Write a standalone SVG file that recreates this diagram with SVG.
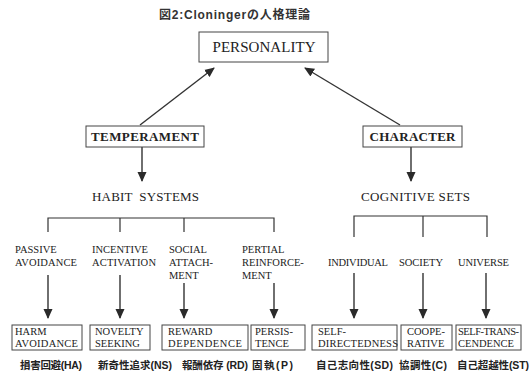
<svg xmlns="http://www.w3.org/2000/svg" width="532" height="381" viewBox="0 0 532 381">
<defs>
<marker id="ah" markerWidth="10" markerHeight="10" refX="9" refY="5" orient="auto" markerUnits="userSpaceOnUse">
<path d="M0,0.5 L10,5 L0,9.5 Z" fill="#2a2a2a"/>
</marker>
<style>
.box{fill:#fff;stroke:#444;stroke-width:1}
.ln{stroke:#333;stroke-width:1.2;fill:none}
.arr{stroke:#333;stroke-width:1.4;fill:none;marker-end:url(#ah)}
.sf{font-family:"Liberation Serif","Times New Roman",serif;fill:#222}
.t1{font-size:15px}
.t2{font-size:13px;font-weight:bold}
.t3{font-size:13px}
.t4{font-size:10.5px}
.jp{font-family:"Liberation Sans","Noto Sans CJK JP",sans-serif;font-weight:bold;font-size:10.5px;fill:#222}
.ttl{font-family:"Liberation Sans","Noto Sans CJK JP",sans-serif;font-weight:bold;font-size:12px;fill:#333}
</style>
</defs>
<rect width="532" height="381" fill="#fff"/>
<text class="ttl" x="159" y="19" textLength="151">図2:Cloningerの人格理論</text>

<g id="connectors">
<line class="arr" x1="140" y1="125" x2="214" y2="68"/>
<line class="arr" x1="400" y1="125" x2="305" y2="68"/>
<line class="arr" x1="142" y1="147" x2="142" y2="181"/>
<line class="arr" x1="411" y1="147" x2="411" y2="181"/>
<path class="ln" d="M48,232 V218 H274 V232 M120,218 V232 M184,218 V232"/>
<path class="ln" d="M354,237 V216 H487 V237 M423,216 V237"/>
<line class="arr" x1="48" y1="275" x2="48" y2="318"/>
<line class="arr" x1="120" y1="275" x2="120" y2="318"/>
<line class="arr" x1="184" y1="283" x2="184" y2="318"/>
<line class="arr" x1="274" y1="283" x2="274" y2="318"/>
<line class="arr" x1="354" y1="273" x2="354" y2="318"/>
<line class="arr" x1="423" y1="273" x2="423" y2="318"/>
<line class="arr" x1="486" y1="273" x2="486" y2="318"/>
</g>

<g id="personality">
<rect class="box" x="199" y="32" width="129" height="30"/>
<text class="sf t1" x="264" y="52" text-anchor="middle" textLength="103">PERSONALITY</text>
</g>
<g id="temperament">
<rect class="box" x="86" y="126" width="118" height="21"/>
<text class="sf t2" x="145" y="141" text-anchor="middle" textLength="108">TEMPERAMENT</text>
</g>
<g id="character">
<rect class="box" x="363" y="126" width="99" height="21"/>
<text class="sf t2" x="412.5" y="141" text-anchor="middle" textLength="86">CHARACTER</text>
</g>
<g id="habit-systems">
<text class="sf t3" x="92" y="201" textLength="107" xml:space="preserve">HABIT  SYSTEMS</text>
</g>
<g id="cognitive-sets">
<text class="sf t3" x="361" y="201" textLength="109">COGNITIVE SETS</text>
</g>

<g id="passive-avoidance">
<text class="sf t4" x="15" y="253">PASSIVE</text>
<text class="sf t4" x="15" y="266" textLength="62">AVOIDANCE</text>
</g>
<g id="incentive-activation">
<text class="sf t4" x="92" y="253">INCENTIVE</text>
<text class="sf t4" x="92" y="266" textLength="64">ACTIVATION</text>
</g>
<g id="social-attachment">
<text class="sf t4" x="169" y="253">SOCIAL</text>
<text class="sf t4" x="169" y="266">ATTACH-</text>
<text class="sf t4" x="169" y="279">MENT</text>
</g>
<g id="pertial-reinforcement">
<text class="sf t4" x="242" y="253">PERTIAL</text>
<text class="sf t4" x="242" y="266">REINFORCE-</text>
<text class="sf t4" x="242" y="279">MENT</text>
</g>
<g id="individual">
<text class="sf t4" x="328" y="266" textLength="60">INDIVIDUAL</text>
</g>
<g id="society">
<text class="sf t4" x="399" y="266" textLength="44">SOCIETY</text>
</g>
<g id="universe">
<text class="sf t4" x="458" y="266" textLength="51">UNIVERSE</text>
</g>

<g id="harm-avoidance">
<rect class="box" x="12" y="325" width="70" height="25"/>
<text class="sf t4" x="15" y="335">HARM</text>
<text class="sf t4" x="15" y="347" textLength="63">AVOIDANCE</text>
</g>
<g id="novelty-seeking">
<rect class="box" x="90" y="325" width="60" height="25"/>
<text class="sf t4" x="95" y="335">NOVELTY</text>
<text class="sf t4" x="95" y="347">SEEKING</text>
</g>
<g id="reward-dependence">
<rect class="box" x="162" y="325" width="86" height="25"/>
<text class="sf t4" x="168" y="335">REWARD</text>
<text class="sf t4" x="168" y="347" textLength="74">DEPENDENCE</text>
</g>
<g id="persistence">
<rect class="box" x="251" y="325" width="54" height="25"/>
<text class="sf t4" x="255" y="335">PERSIS-</text>
<text class="sf t4" x="255" y="347">TENCE</text>
</g>
<g id="self-directedness">
<rect class="box" x="312" y="325" width="85" height="25"/>
<text class="sf t4" x="318" y="335">SELF-</text>
<text class="sf t4" x="318" y="347" textLength="80">DIRECTEDNESS</text>
</g>
<g id="cooperative">
<rect class="box" x="401" y="325" width="51" height="25"/>
<text class="sf t4" x="407" y="335">COOPE-</text>
<text class="sf t4" x="407" y="347">RATIVE</text>
</g>
<g id="self-transcendence">
<rect class="box" x="456" y="325" width="65" height="25"/>
<text class="sf t4" x="458" y="335" textLength="61">SELF-TRANS-</text>
<text class="sf t4" x="458" y="347">CENDENCE</text>
</g>

<g id="jp-labels">
<text class="jp" x="20" y="369" textLength="62">損害回避(HA)</text>
<text class="jp" x="98" y="369" textLength="74">新奇性追求(NS)</text>
<text class="jp" x="182" y="369" textLength="66">報酬依存 (RD)</text>
<text class="jp" x="252" y="369" textLength="41">固執(P)</text>
<text class="jp" x="316" y="369" textLength="77">自己志向性(SD)</text>
<text class="jp" x="399" y="369" textLength="48">協調性(C)</text>
<text class="jp" x="457" y="369" textLength="72">自己超越性(ST)</text>
</g>
</svg>
